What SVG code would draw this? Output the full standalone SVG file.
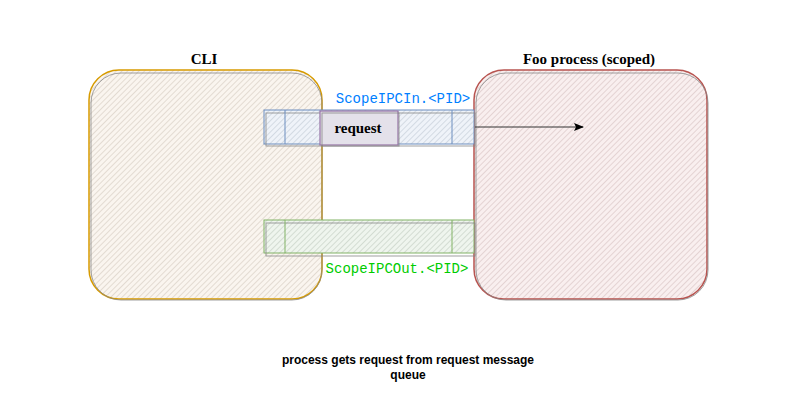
<svg xmlns="http://www.w3.org/2000/svg" width="800" height="400" viewBox="0 0 800 400">
<defs>
<pattern id="hO" width="4" height="4" patternUnits="userSpaceOnUse" patternTransform="rotate(45)"><rect width="4" height="4" fill="#faf5ef"/><line x1="0" y1="0" x2="0" y2="4" stroke="#bfb3a6" stroke-width="1" opacity="0.8"/></pattern>
<pattern id="hR" width="4" height="4" patternUnits="userSpaceOnUse" patternTransform="rotate(45)"><rect width="4" height="4" fill="#f9efef"/><line x1="0" y1="0" x2="0" y2="4" stroke="#c4a9a9" stroke-width="1" opacity="0.8"/></pattern>
<pattern id="hB" width="4" height="4" patternUnits="userSpaceOnUse" patternTransform="rotate(45)"><rect width="4" height="4" fill="#eff3f9"/><line x1="0" y1="0" x2="0" y2="4" stroke="#a9b3c2" stroke-width="1" opacity="0.8"/></pattern>
<pattern id="hG" width="4" height="4" patternUnits="userSpaceOnUse" patternTransform="rotate(45)"><rect width="4" height="4" fill="#eff5ee"/><line x1="0" y1="0" x2="0" y2="4" stroke="#a9b5a6" stroke-width="1" opacity="0.8"/></pattern>
<marker id="arr" markerWidth="10" markerHeight="8" refX="9" refY="4" orient="auto" markerUnits="userSpaceOnUse"><path d="M0,0 L10,4 L0,8 L2,4 Z" fill="#000"/></marker>
</defs>
<style>
.title{font-family:"Liberation Serif",serif;font-weight:bold;font-size:15px;fill:#000;text-anchor:middle}
.mono{font-family:"Liberation Mono","DejaVu Sans Mono",monospace;font-size:14px;text-anchor:middle}
.note{font-family:"Liberation Sans",Arial,sans-serif;font-weight:bold;font-size:12px;fill:#000;text-anchor:middle}
.shadow{fill:none;stroke:#888;stroke-width:1;opacity:0.8}
</style>
<g id="cli">
<rect x="89" y="70" width="233" height="229" rx="30" fill="url(#hO)" stroke="#d79b00" stroke-width="1.5"/>
<rect x="91" y="73" width="231" height="227" rx="30" class="shadow"/>
<text class="title" x="204" y="64">CLI</text>
</g>
<g id="foo">
<rect x="474" y="70" width="233" height="229" rx="30" fill="url(#hR)" stroke="#b85450" stroke-width="1.5"/>
<rect x="476" y="73" width="232" height="227" rx="30" class="shadow"/>
<text class="title" x="589" y="64">Foo process (scoped)</text>
</g>
<g id="queue-in">
<rect x="264" y="110" width="210" height="34" fill="url(#hB)" stroke="#6c8ebf" stroke-width="1"/>
<rect x="266" y="113" width="209" height="33" class="shadow"/>
<line x1="285" y1="110" x2="285" y2="144" stroke="#6c8ebf"/>
<line x1="452" y1="110" x2="452" y2="144" stroke="#6c8ebf"/>
<text class="mono" x="403" y="103" fill="#007fff">ScopeIPCIn.&lt;PID&gt;</text>
</g>
<g id="request">
<rect x="320" y="111" width="78" height="34" fill="#e4e1ea" stroke="#9673a6" stroke-width="1.2"/>
<rect x="322" y="113" width="77" height="33" class="shadow"/>
<text class="title" x="358" y="133">request</text>
</g>
<g id="queue-out">
<rect x="264" y="220" width="210" height="33" fill="url(#hG)" stroke="#82b366" stroke-width="1"/>
<rect x="266" y="223" width="209" height="33" class="shadow"/>
<line x1="285" y1="220" x2="285" y2="253" stroke="#82b366"/>
<line x1="452" y1="220" x2="452" y2="253" stroke="#82b366"/>
<text class="mono" x="397" y="273" fill="#00cc00">ScopeIPCOut.&lt;PID&gt;</text>
</g>
<g id="connectors">
<line x1="475" y1="127" x2="583" y2="127" stroke="#333" stroke-width="1" marker-end="url(#arr)"/>
</g>
<g id="note">
<text class="note" x="408" y="364">process gets request from request message</text>
<text class="note" x="408" y="379">queue</text>
</g>
</svg>
